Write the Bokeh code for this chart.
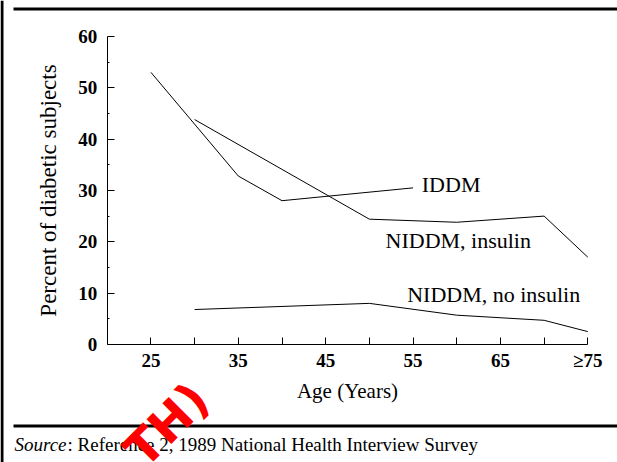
from bokeh.plotting import figure
from bokeh.models import Range1d, FixedTicker, Label, BoxAnnotation
from bokeh.embed import file_html
from bokeh.resources import INLINE

# Share of diabetic subjects by age group and treatment type
iddm_age = [25, 35, 40, 55]
iddm_pct = [53.0, 32.8, 28.0, 30.5]

niddm_ins_age = [30, 50, 60, 70, 75]
niddm_ins_pct = [43.8, 24.4, 23.8, 25.0, 17.0]

niddm_no_age = [30, 50, 60, 70, 75]
niddm_no_pct = [6.8, 8.0, 5.7, 4.7, 2.5]

series_names = ["IDDM", "NIDDM, insulin", "NIDDM, no insulin"]

x_major = [25, 35, 45, 55, 65, 75]
x_minor = [30, 40, 50, 60, 70]
x_labels = {75: "≥75"}
y_major = [0, 10, 20, 30, 40, 50, 60]
y_minor = [5, 15, 25, 35, 45, 55]

SERIF = "Liberation Serif"

# the frame fills the page; axes sit at fixed data positions inside it
W, H = 617, 462
p = figure(width=W, height=H, output_backend="svg", toolbar_location=None,
           x_range=Range1d(7.78, 78.4), y_range=Range1d(-23.0, 67.0),
           min_border=0)
p.outline_line_color = None
p.grid.visible = False
p.background_fill_color = "white"
p.border_fill_color = "white"

for ax in (p.xaxis[0], p.yaxis[0]):
    ax.axis_line_color = "black"
    ax.axis_line_width = 1
    ax.major_tick_out = 0
    ax.minor_tick_out = 0
    ax.major_tick_line_color = "black"
    ax.minor_tick_line_color = "black"
    ax.major_label_text_font = SERIF
    ax.major_label_text_font_style = "bold"
    ax.major_label_text_font_size = "19px"
    ax.major_label_text_color = "black"
    ax.axis_label_text_font = SERIF
    ax.axis_label_text_font_style = "normal"
    ax.axis_label_text_font_size = "21px"
    ax.axis_label_text_color = "black"

p.xaxis.fixed_location = 0
p.xaxis.bounds = (20, 75)
p.xaxis.ticker = FixedTicker(ticks=x_major, minor_ticks=x_minor)
p.xaxis.major_label_overrides = x_labels
p.xaxis.major_tick_in = 7
p.xaxis.minor_tick_in = 7
p.xaxis.major_label_standoff = 6
p.xaxis.axis_label = "Age (Years)"
p.xaxis.axis_label_standoff = 4

p.yaxis.fixed_location = 20
p.yaxis.bounds = (0, 60)
p.yaxis.ticker = FixedTicker(ticks=y_major, minor_ticks=y_minor)
p.yaxis.major_tick_in = 7
p.yaxis.minor_tick_in = 2
p.yaxis.major_label_standoff = 10
p.yaxis.axis_label = "Percent of diabetic subjects"
p.yaxis.axis_label_text_font_size = "23px"
p.yaxis.axis_label_standoff = 15

for xs, ys in ((iddm_age, iddm_pct), (niddm_ins_age, niddm_ins_pct),
               (niddm_no_age, niddm_no_pct)):
    p.line(xs, ys, line_color="black", line_width=1)

# series names beside their lines
for txt, x, y in zip(series_names, (56.0, 51.85, 54.33), (31.2, 20.25, 9.73)):
    p.add_layout(Label(x=x, y=y, text=txt, text_font=SERIF,
                       text_font_size="22px", text_baseline="middle",
                       text_color="black"))


def rule(left, right, bottom, top):
    return BoxAnnotation(left=left, right=right, top=top, bottom=bottom,
                         left_units="screen", right_units="screen",
                         top_units="screen", bottom_units="screen",
                         fill_color="black", fill_alpha=1, line_color=None,
                         line_alpha=0)


# page rules: left bar, top rule, rule above the source note
p.add_layout(rule(0, 3, 0, H))
p.add_layout(rule(13, W, H - 10, H - 7))
p.add_layout(rule(13, W, 35, 38))

p.add_layout(Label(x=14, y=18, x_units="screen", y_units="screen",
                   text="Source", text_font=SERIF, text_font_style="italic",
                   text_font_size="19px", text_baseline="middle",
                   text_color="black"))
p.add_layout(Label(x=67, y=18, x_units="screen", y_units="screen",
                   text=": Reference 2, 1989 National Health Interview Survey",
                   text_font=SERIF, text_font_size="19px",
                   text_baseline="middle", text_color="black"))

# red stamp mark
p.add_layout(Label(x=166, y=38, x_units="screen", y_units="screen",
                   text="TH)", text_font="DejaVu Sans", text_font_style="bold",
                   text_font_size="48px", text_color="red", angle=45,
                   angle_units="deg", text_align="center",
                   text_baseline="middle"))

open("out.html", "w").write(file_html(p, INLINE))
